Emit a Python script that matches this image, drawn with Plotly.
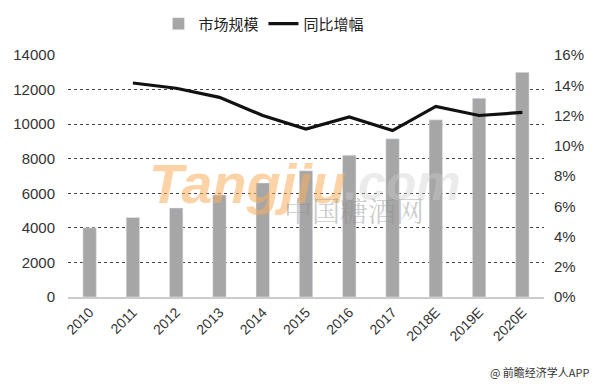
import plotly.graph_objects as go

years = ["2010", "2011", "2012", "2013", "2014", "2015", "2016", "2017", "2018E", "2019E", "2020E"]
market_size = [4000, 4600, 5150, 5900, 6600, 7300, 8200, 9150, 10250, 11500, 13000]
growth_years = ["2011", "2012", "2013", "2014", "2015", "2016", "2017", "2018E", "2019E", "2020E"]
growth_rate = [0.1415, 0.138, 0.132, 0.120, 0.111, 0.119, 0.110, 0.126, 0.120, 0.122]
left_ticks = [0, 2000, 4000, 6000, 8000, 10000, 12000, 14000]
right_ticks = [0, 0.02, 0.04, 0.06, 0.08, 0.10, 0.12, 0.14, 0.16]

fig = go.Figure()
fig.add_trace(go.Bar(
    x=years, y=market_size, name="市场规模",
    marker=dict(color="#a6a6a6"), width=0.31,
))
fig.add_trace(go.Scatter(
    x=growth_years, y=growth_rate, name="同比增幅", yaxis="y2",
    mode="lines", line=dict(color="#111111", width=3.2),
))

font_family = "Liberation Sans, Arial, Noto Sans CJK SC, sans-serif"

fig.update_layout(
    width=600, height=386,
    margin=dict(l=68, r=56, t=55, b=89, autoexpand=False),
    paper_bgcolor="white", plot_bgcolor="white",
    font=dict(family=font_family, color="#333333"),
    showlegend=True,
    legend=dict(
        orientation="h", x=0.19, xanchor="left", y=0.938, yanchor="middle",
        yref="container", font=dict(size=15, color="#222222",
                                   family="Noto Sans CJK SC, sans-serif"),
        traceorder="normal", bgcolor="rgba(0,0,0,0)",
    ),
    xaxis=dict(
        type="category", tickangle=-45, tickfont=dict(size=14, color="#333333"),
        showline=True, linecolor="#cccccc", linewidth=1.5,
        ticks="", showgrid=False, range=[-0.5, 10.5], automargin=False,
    ),
    yaxis=dict(
        range=[0, 14000], tickvals=left_ticks, ticktext=[str(v) for v in left_ticks],
        tickfont=dict(size=15, color="#333333"),
        showgrid=True, gridcolor="#444444", griddash="dot", gridwidth=1,
        zeroline=False, ticks="", ticklabelstandoff=12, automargin=False,
    ),
    yaxis2=dict(
        overlaying="y", side="right", range=[0, 0.16], tickvals=right_ticks,
        ticktext=[f"{round(v*100)}%" for v in right_ticks],
        tickfont=dict(size=15, color="#333333"),
        showgrid=False, zeroline=False, ticks="", ticklabelstandoff=9, automargin=False,
    ),
)

# Watermark
fig.add_annotation(
    text="<b><i>Tangjiu</i></b>", xref="paper", yref="paper", x=0.165, y=0.47,
    xanchor="left", yanchor="middle", showarrow=False,
    font=dict(size=56, color="rgba(248,175,95,0.55)", family="Liberation Sans, Arial"),
)
fig.add_annotation(
    text="<b><i>.com</i></b>", xref="paper", yref="paper", x=0.575, y=0.47,
    xanchor="left", yanchor="middle", showarrow=False,
    font=dict(size=50, color="rgba(205,205,205,0.4)", family="Liberation Sans, Arial"),
)
fig.add_annotation(
    text="中国糖酒网", xref="paper", yref="paper", x=0.45, y=0.36,
    xanchor="left", yanchor="middle", showarrow=False,
    font=dict(size=28, color="rgba(140,140,140,0.45)", family="Noto Serif CJK SC, Noto Sans CJK SC, serif"),
)
# Source
fig.add_annotation(
    text="@ 前瞻经济学人APP", xref="paper", yref="paper", x=1.101, y=-0.31,
    xanchor="right", yanchor="middle", showarrow=False,
    font=dict(size=11, color="#333333", family="Noto Sans CJK SC, sans-serif"),
)

fig.write_html("out.html", config={"displayModeBar": False},
               post_script="document.body.style.margin='0';")
